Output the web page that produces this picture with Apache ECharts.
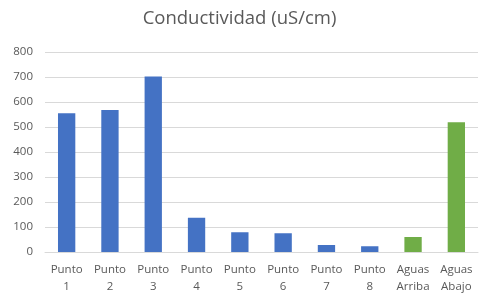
<!DOCTYPE html>
<html lang="es">
<head>
    <meta charset="UTF-8">
    <title>Conductividad (uS/cm)</title>
    <script src="https://cdn.jsdelivr.net/npm/echarts/dist/echarts.min.js"></script>
    <style>
        body { margin: 0; padding: 0; background: #fff; }
        #chart { width: 479px; height: 296px; }
    </style>
</head>
<body>
    <div id="chart"></div>
    <script>
        var categorias = ['Punto\n1', 'Punto\n2', 'Punto\n3', 'Punto\n4', 'Punto\n5', 'Punto\n6', 'Punto\n7', 'Punto\n8', 'Aguas\nArriba', 'Aguas\nAbajo'];
        var conductividad = [555, 568, 702, 137, 79, 75, 28, 23, 60, 519];
        var ticksY = [0, 100, 200, 300, 400, 500, 600, 700, 800];

        var myChart = echarts.init(document.getElementById('chart'));

        myChart.setOption({
            animation: false,
            title: {
                text: 'Conductividad (uS/cm)',
                left: 'center',
                top: 4,
                textStyle: {
                    fontFamily: 'Open Sans',
                    fontSize: 18.5,
                    fontWeight: 'normal',
                    color: '#595959'
                }
            },
            grid: { left: 45, right: 1, top: 52, bottom: 44 },
            xAxis: {
                type: 'category',
                data: categorias,
                axisTick: { show: false },
                axisLine: { lineStyle: { color: '#d9d9d9' } },
                axisLabel: {
                    color: '#595959',
                    fontFamily: 'Open Sans',
                    fontSize: 11.5,
                    lineHeight: 17,
                    interval: 0,
                    margin: 9
                }
            },
            yAxis: {
                type: 'value',
                min: ticksY[0],
                max: ticksY[ticksY.length - 1],
                interval: 100,
                axisLine: { show: false },
                axisTick: { show: false },
                splitLine: { lineStyle: { color: '#d9d9d9' } },
                axisLabel: {
                    color: '#595959',
                    fontFamily: 'Open Sans',
                    fontSize: 11.5,
                    margin: 12
                }
            },
            series: [{
                type: 'bar',
                barWidth: '40%',
                data: conductividad,
                itemStyle: {
                    color: function (p) {
                        return categorias[p.dataIndex].indexOf('Aguas') === 0 ? '#70AD47' : '#4472C4';
                    }
                }
            }]
        });
    </script>
</body>
</html>
